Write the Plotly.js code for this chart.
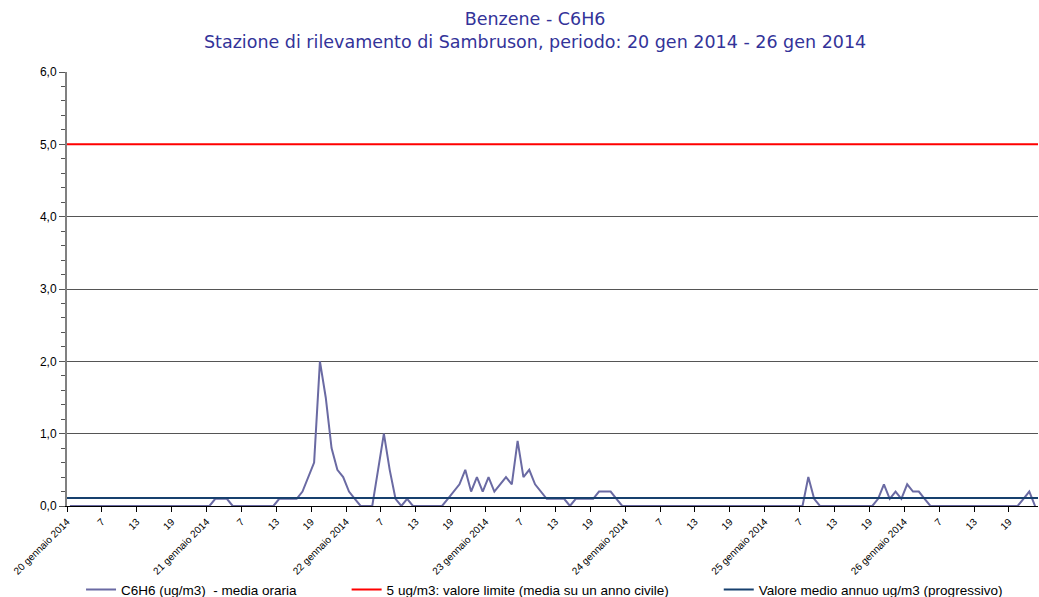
<!DOCTYPE html>
<html>
<head>
<meta charset="utf-8">
<script src="https://cdn.plot.ly/plotly-3.0.1.min.js"></script>
<style>html,body{margin:0;padding:0;background:#fff;}#chart{width:1039px;height:597px;}</style>
</head>
<body>
<div id="chart"></div>
<script>
// Hourly C6H6 values (ug/m3), one array per day
const day20 = [0,0,0,0,0,0,0,0,0,0,0,0,0,0,0,0,0,0,0,0,0,0,0,0];
const day21 = [0,0.1,0.1,0.1,0,0,0,0,0,0,0,0,0.1,0.1,0.1,0.1,0.2,0.4,0.6,2.0,1.5,0.8,0.5,0.4];
const day22 = [0.2,0.1,0,0,0,0.5,1.0,0.5,0.1,0,0.1,0,0,0,0,0,0,0.1,0.2,0.3,0.5,0.2,0.4,0.2];
const day23 = [0.4,0.2,0.3,0.4,0.3,0.9,0.4,0.5,0.3,0.2,0.1,0.1,0.1,0.1,0,0.1,0.1,0.1,0.1,0.2,0.2,0.2,0.1,0];
const day24 = [0,0,0,0,0,0,0,0,0,0,0,0,0,0,0,0,0,0,0,0,0,0,0,0];
const day25 = [0,0,0,0,0,0,0,0.4,0.1,0,0,0,0,0,0,0,0,0,0,0.1,0.3,0.1,0.2,0.1];
const day26 = [0.3,0.2,0.2,0.1,0,0,0,0,0,0,0,0,0,0,0,0,0,0,0,0,0.1,0.2,0];

const dayLabels = ["20 gennaio 2014","21 gennaio 2014","22 gennaio 2014","23 gennaio 2014","24 gennaio 2014","25 gennaio 2014","26 gennaio 2014"];
const hourLabels = ["7","13","19"];

const limitValue = 5;       // valore limite
const annualMean = 0.11;    // valore medio annuo (progressivo)

const seriesNames = ["C6H6 (ug/m3)  - media oraria",
                     "5 ug/m3: valore limite (media su un anno civile)",
                     "Valore medio annuo ug/m3 (progressivo)"];

const values = [].concat(day20, day21, day22, day23, day24, day25, day26);
const idx = values.map((v, i) => i);

// tick positions at boundaries between hourly categories
const tickvals = [], ticktext = [];
for (let d = 0; d < dayLabels.length; d++) {
  tickvals.push(d*24 - 0.5); ticktext.push(dayLabels[d]);
  for (let h = 0; h < hourLabels.length; h++) {
    tickvals.push(d*24 + (h+1)*6 - 0.5); ticktext.push(hourLabels[h]);
  }
}

const xr = [-0.5, values.length - 0.5];
const pad = '\u00a0'.repeat(12);

const traces = [
  {x: idx, y: values, type: 'scatter', mode: 'lines', name: seriesNames[0] + pad,
   line: {color: '#6a6aa3', width: 2}},
  {x: xr, y: [limitValue, limitValue], type: 'scatter', mode: 'lines', name: seriesNames[1] + pad,
   line: {color: '#ff0000', width: 2}},
  {x: xr, y: [annualMean, annualMean], type: 'scatter', mode: 'lines', name: seriesNames[2],
   line: {color: '#17406e', width: 2}}
];

const layout = {
  width: 1039, height: 597,
  paper_bgcolor: '#ffffff', plot_bgcolor: '#ffffff',
  separators: ',.',
  margin: {l: 67, r: 1, t: 72, b: 91},
  font: {family: 'Liberation Sans, Arial, sans-serif', size: 11, color: '#000'},
  title: {
    text: 'Benzene - C6H6<br>Stazione di rilevamento di Sambruson, periodo: 20 gen 2014 - 26 gen 2014',
    font: {family: 'DejaVu Sans, sans-serif', size: 17.5, color: '#333399'},
    x: 0.515, xanchor: 'center', y: 0.958, yanchor: 'top', automargin: false
  },
  showlegend: true,
  legend: {
    orientation: 'h', xref: 'container', yref: 'container',
    x: 0.078, xanchor: 'left', y: 0.012, yanchor: 'middle',
    font: {family: 'Liberation Sans, Arial, sans-serif', size: 13.5, color: '#000'},
    bgcolor: 'rgba(0,0,0,0)'
  },
  xaxis: {
    range: xr, showgrid: false, zeroline: false,
    showline: true, linecolor: '#000', linewidth: 1,
    tickmode: 'array', tickvals: tickvals, ticktext: ticktext,
    ticks: 'outside', ticklen: 5, tickcolor: '#000',
    tickangle: -45, tickfont: {size: 10, family: 'Liberation Sans, Arial, sans-serif'}
  },
  yaxis: {
    range: [0, 6], dtick: 1, tickformat: '.1f',
    showgrid: true, gridcolor: '#555555', gridwidth: 1,
    zeroline: false, showline: true, linecolor: '#808080', linewidth: 2,
    ticks: 'outside', ticklen: 6, tickcolor: '#555555',
    minor: {dtick: 0.2, ticks: 'outside', ticklen: 4, tickcolor: '#555555', showgrid: false},
    tickfont: {size: 12, family: 'Liberation Sans, Arial, sans-serif'}
  }
};

Plotly.newPlot('chart', traces, layout, {displayModeBar: false, staticPlot: true});
</script>
</body>
</html>
